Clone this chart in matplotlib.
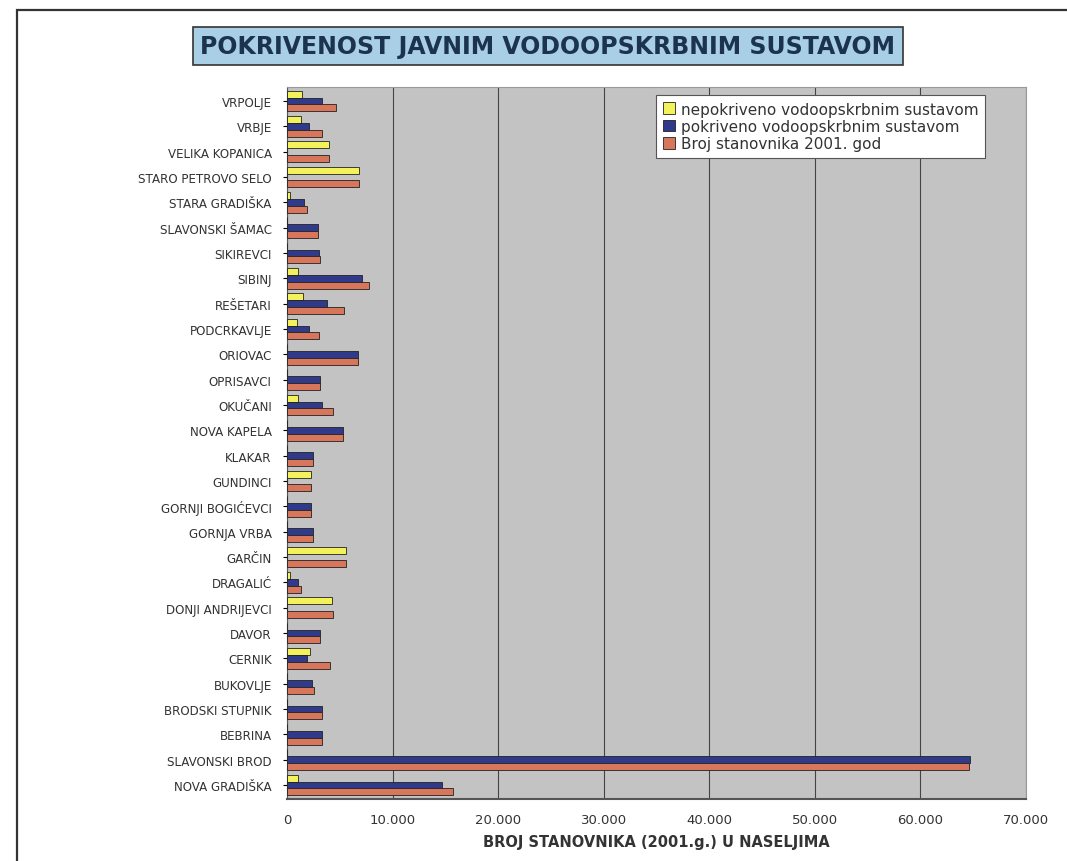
import matplotlib.pyplot as plt
import matplotlib.patches as mpatches
import numpy as np

# Naselja, odozdo prema gore (barh crta prvu kategoriju na dnu)
naselja = [
    'NOVA GRADIŠKA', 'SLAVONSKI BROD', 'BEBRINA', 'BRODSKI STUPNIK', 'BUKOVLJE',
    'CERNIK', 'DAVOR', 'DONJI ANDRIJEVCI', 'DRAGALIĆ', 'GARČIN', 'GORNJA VRBA',
    'GORNJI BOGIĆEVCI', 'GUNDINCI', 'KLAKAR', 'NOVA KAPELA', 'OKUČANI',
    'OPRISAVCI', 'ORIOVAC', 'PODCRKAVLJE', 'REŠETARI', 'SIBINJ', 'SIKIREVCI',
    'SLAVONSKI ŠAMAC', 'STARA GRADIŠKA', 'STARO PETROVO SELO', 'VELIKA KOPANICA',
    'VRBJE', 'VRPOLJE',
]

nepokriveno = [1000, 0, 0, 0, 0,
               2200, 0, 4300, 300, 5600, 0,
               0, 2300, 0, 0, 1000,
               0, 0, 900, 1500, 1000, 0,
               0, 300, 6800, 4000,
               1300, 1400]

pokriveno = [14700, 64700, 3300, 3300, 2400,
             1900, 3100, 0, 1000, 0, 2500,
             2300, 0, 2500, 5300, 3300,
             3100, 6700, 2100, 3800, 7100, 3000,
             2900, 1600, 0, 0,
             2100, 3300]

stanovnika_2001 = [15700, 64600, 3300, 3300, 2600,
                   4100, 3100, 4400, 1300, 5600, 2500,
                   2300, 2300, 2500, 5300, 4400,
                   3100, 6700, 3000, 5400, 7800, 3100,
                   2900, 1900, 6800, 4000,
                   3300, 4600]

x_ticks = [0, 10000, 20000, 30000, 40000, 50000, 60000, 70000]
x_tick_labels = ['0', '10.000', '20.000', '30.000', '40.000', '50.000', '60.000', '70.000']

series_labels = ['nepokriveno vodoopskrbnim sustavom',
                 'pokriveno vodoopskrbnim sustavom',
                 'Broj stanovnika 2001. god']
colors = ['#f4f25a', '#2f3a8a', '#d7765a']

W, H = 1067, 862
fig = plt.figure(figsize=(W / 100, H / 100), dpi=100)
fig.patch.set_facecolor('white')

# okvir oko cijelog grafa
frame = mpatches.Rectangle((17 / W, -0.05), 1.1, 1 - 11 / H + 0.05,
                           transform=fig.transFigure, fill=False,
                           edgecolor='#333333', linewidth=1.6)
fig.patches.append(frame)

ax = fig.add_axes([287 / W, 1 - 800 / H, (1026 - 287) / W, (800 - 88) / H])
ax.set_facecolor('#c3c3c3')

y = np.arange(len(naselja))
h = 0.27
series = [nepokriveno, pokriveno, stanovnika_2001]
for i, (vals, col) in enumerate(zip(series, colors)):
    ax.barh(y + (1 - i) * h, vals, height=h, color=col,
            edgecolor='#222222', linewidth=0.6, zorder=3)

ax.set_xlim(0, 70000)
ax.set_ylim(-0.55, len(naselja) - 0.45)
ax.set_xticks(x_ticks)
ax.set_xticklabels(x_tick_labels, fontsize=9.5, color='#333333')
ax.set_yticks(y)
ax.set_yticklabels(naselja, fontsize=8.6, color='#333333')
ax.tick_params(axis='y', length=3, pad=8)
ax.tick_params(axis='x', length=0, pad=10)
ax.grid(True, axis='x', color='#444444', linewidth=0.8, zorder=0)
ax.set_axisbelow(True)
for side in ['top', 'right']:
    ax.spines[side].set_color('#999999')
ax.spines['left'].set_color('#555555')
ax.spines['bottom'].set_color('#555555')
ax.spines['bottom'].set_linewidth(1.5)

ax.set_xlabel('BROJ STANOVNIKA (2001.g.) U NASELJIMA', fontsize=10.5,
              fontweight='bold', color='#333333', labelpad=6)

fig.text(548 / W, 1 - 47 / H, 'POKRIVENOST JAVNIM VODOOPSKRBNIM SUSTAVOM',
         ha='center', va='center', fontsize=17, fontweight='bold',
         color='#1c3350',
         bbox=dict(boxstyle='square,pad=0.3', facecolor='#a9cfe6',
                   edgecolor='#333333', linewidth=1.2))

handles = [mpatches.Patch(facecolor=c, edgecolor='#222222', linewidth=0.6)
           for c in colors]
leg = fig.legend(handles, series_labels, loc='upper left',
                 bbox_to_anchor=(648 / W, 1 - 88 / H), fontsize=11,
                 frameon=True, fancybox=False, edgecolor='#555555',
                 facecolor='white', framealpha=1,
                 handlelength=0.8, handleheight=0.8, handletextpad=0.4,
                 labelspacing=0.15, borderpad=0.45)
leg.get_frame().set_linewidth(0.8)
for t in leg.get_texts():
    t.set_color('#333333')

fig.savefig('out.png', dpi=100)
